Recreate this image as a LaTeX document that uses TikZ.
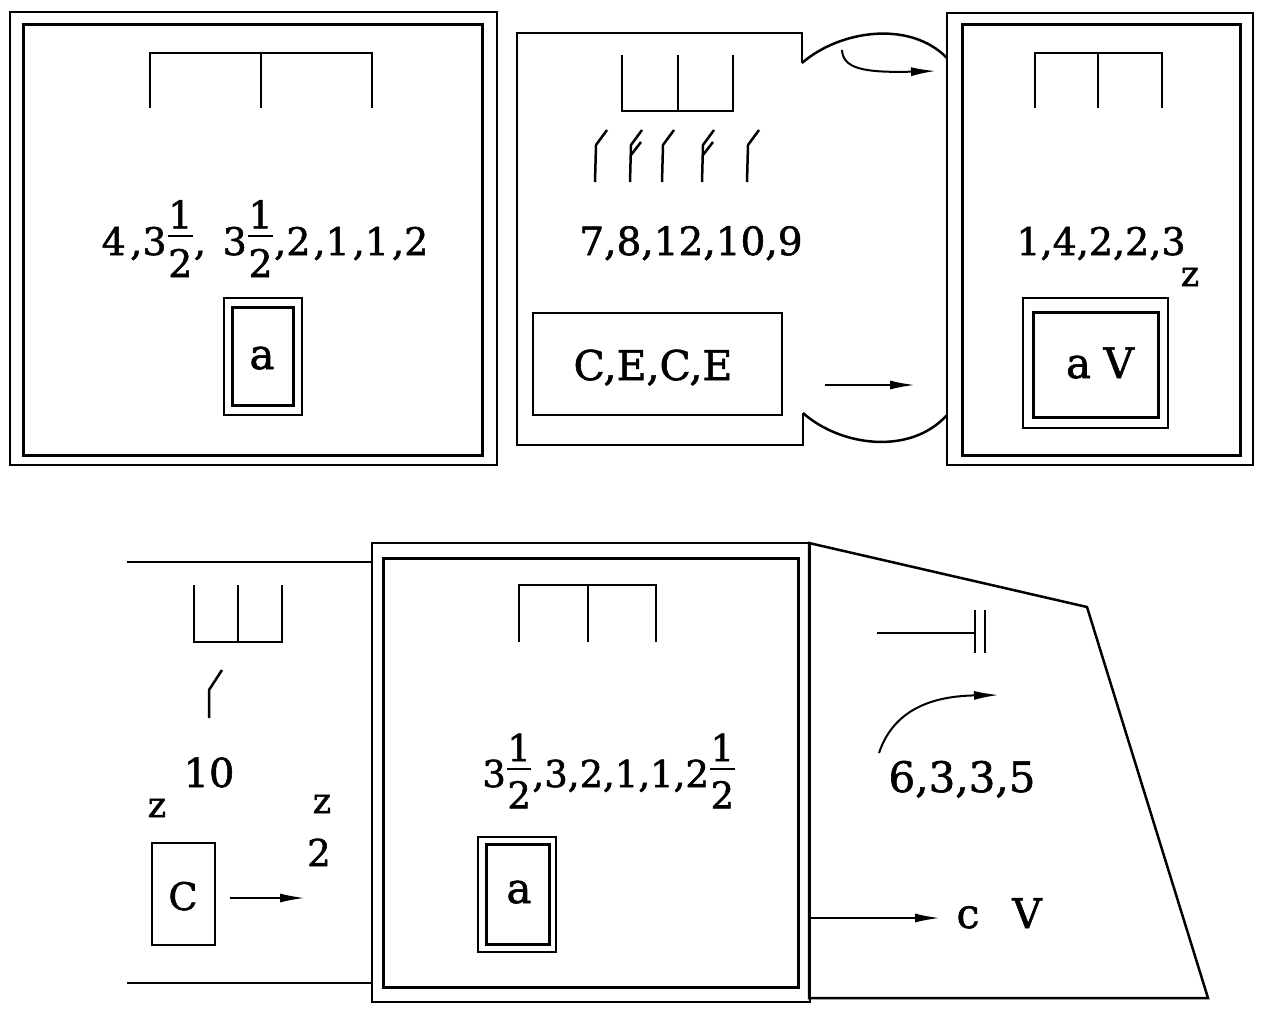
\documentclass[tikz,border=0pt]{standalone}
\usepackage{fontspec}
\setmainfont{DejaVu Serif}[FakeBold=1.4]
\usetikzlibrary{arrows.meta}
\newcommand{\fs}[1]{\fontsize{#1}{#1}\selectfont}
\newcommand{\hf}{\kern0.03em\raisebox{-0.58em}{\vbox{\offinterlineskip\hbox to 0.66em{\hfil 1\hfil}\kern0.18em\hrule height 0.06em\kern0.3em\hbox to 0.66em{\hfil 2\hfil}}}\kern0.03em}
\begin{document}
\begin{tikzpicture}[x=1pt,y=-1pt,
  outerln/.style={line width=2pt},
  innerln/.style={line width=3pt},
  ln/.style={line width=2.5pt},
  arr/.style={line width=2pt,-{Latex[length=25pt,width=9pt]}},
  txt/.style={inner sep=0pt,anchor=base}]
\useasboundingbox (0,0) rectangle (1262,1015);

% ---------- top left box ----------
\draw[outerln] (10,12) rectangle (497,465);
\draw[innerln] (23,24) rectangle (482,455);
\draw[ln] (150,108) -- (150,53) -- (372,53) -- (372,108);
\draw[ln] (261,53) -- (261,108);
\node[txt,font=\fs{38}] (tl) at (265,255) {4\kern0.12em,3\hf,\kern0.12em{} 3\hf,2\kern0.08em,1\kern0.08em,1\kern0.08em,2};
\draw[outerln] (224,298) rectangle (302,415);
\draw[innerln] (232,307) rectangle (293,405);
\node[txt,font=\fs{42}] (tla) at (262,369) {a};

% ---------- top middle shape ----------
\draw[ln] (802,63) -- (802,33) -- (517,33) -- (517,445) -- (803,445) -- (803,413);
\draw[ln] (802,63) .. controls (840,30) and (910,20) .. (947,58);
\draw[ln] (803,413) .. controls (840,446) and (910,456) .. (947,415);
\draw[ln] (622,55) -- (622,111) -- (733,111) -- (733,55);
\draw[ln] (678,55) -- (678,111);
\foreach \x in {595,662,747}{
  \draw[ln] (\x,182) -- (\x+1,145) -- (\x+12,130);
}
\foreach \x in {630,702}{
  \draw[ln] (\x,182) -- (\x+1,145) -- (\x+12,130);
  \draw[ln] (\x+1,155) -- (\x+11,142);
}
\node[txt,font=\fs{39}] (tm) at (691,255) {7,8,12,10,9};
\draw[ln] (533,313) rectangle (782,415);
\node[txt,font=\fs{41}] (tce) at (653,380) {C,E,C,E};
\coordinate (a1s) at (825,385);
\coordinate (a1e) at (915,385);
\draw[arr] (a1s) -- (a1e);
\coordinate (a2s) at (842,50);
\coordinate (a2e) at (936,71);
\draw[arr] (a2s) .. controls (843,68) and (862,73) .. (a2e);

% ---------- top right box ----------
\draw[outerln] (947,13) rectangle (1253,465);
\draw[innerln] (962,24) rectangle (1240,455);
\draw[ln] (1035,108) -- (1035,53) -- (1162,53) -- (1162,108);
\draw[ln] (1098,53) -- (1098,108);
\node[txt,font=\fs{38}] (tr) at (1101,255) {1,4,2,2,3};
\node[txt,font=\fs{35}] (trz) at (1190,286) {z};
\draw[outerln] (1023,298) rectangle (1168,428);
\draw[innerln] (1033,312) rectangle (1158,417);
\node[txt,font=\fs{42}] (trav) at (1100,378) {a\kern0.3em V};

% ---------- bottom left ----------
\draw[ln] (127,562) -- (372,562);
\draw[ln] (127,983) -- (372,983);
\draw[ln] (194,585) -- (194,642) -- (282,642) -- (282,585);
\draw[ln] (238,585) -- (238,642);
\draw[ln] (209,718) -- (209,690) -- (222,670);
\node[txt,font=\fs{40}] (bl10) at (209,787) {10};
\node[txt,font=\fs{35}] (blz1) at (157,817) {z};
\node[txt,font=\fs{35}] (blz2) at (322,813) {z};
\node[txt,font=\fs{37}] (bl2) at (319,866) {2};
\draw[ln] (152,843) rectangle (215,945);
\node[txt,font=\fs{38}] (blc) at (183,910) {C};
\coordinate (a3s) at (230,898);
\coordinate (a3e) at (305,898);
\draw[arr] (a3s) -- (a3e);

% ---------- bottom middle box ----------
\draw[outerln] (372,543) rectangle (810,1002);
\draw[innerln] (383,558) rectangle (798,987);
\draw[ln] (519,642) -- (519,585) -- (656,585) -- (656,642);
\draw[ln] (588,585) -- (588,642);
\node[txt,font=\fs{37}] (bm) at (609,787) {3\hf,3,2,1,1,2\hf};
\draw[outerln] (478,837) rectangle (556,952);
\draw[innerln] (486,844) rectangle (549,944);
\node[txt,font=\fs{42}] (bma) at (519,903) {a};

% ---------- bottom right trapezoid ----------
\draw[ln] (809,543) -- (1087,607) -- (1208,998) -- (809,998) -- cycle;
\draw[ln] (877,633) -- (975,633);
\draw[ln] (975,610) -- (975,653);
\draw[ln] (985,610) -- (985,653);
\coordinate (a4s) at (879,753);
\coordinate (a4e) at (999,695);
\draw[arr] (a4s) .. controls (895,705) and (940,696) .. (a4e);
\node[txt,font=\fs{42}] (br) at (962,792) {6,3,3,5};
\coordinate (a5s) at (809,918);
\coordinate (a5e) at (940,918);
\draw[arr] (a5s) -- (a5e);
\node[txt,font=\fs{41}] (brc) at (968,928) {c};
\node[txt,font=\fs{41}] (brv) at (1027,928) {V};
\end{tikzpicture}
\end{document}
